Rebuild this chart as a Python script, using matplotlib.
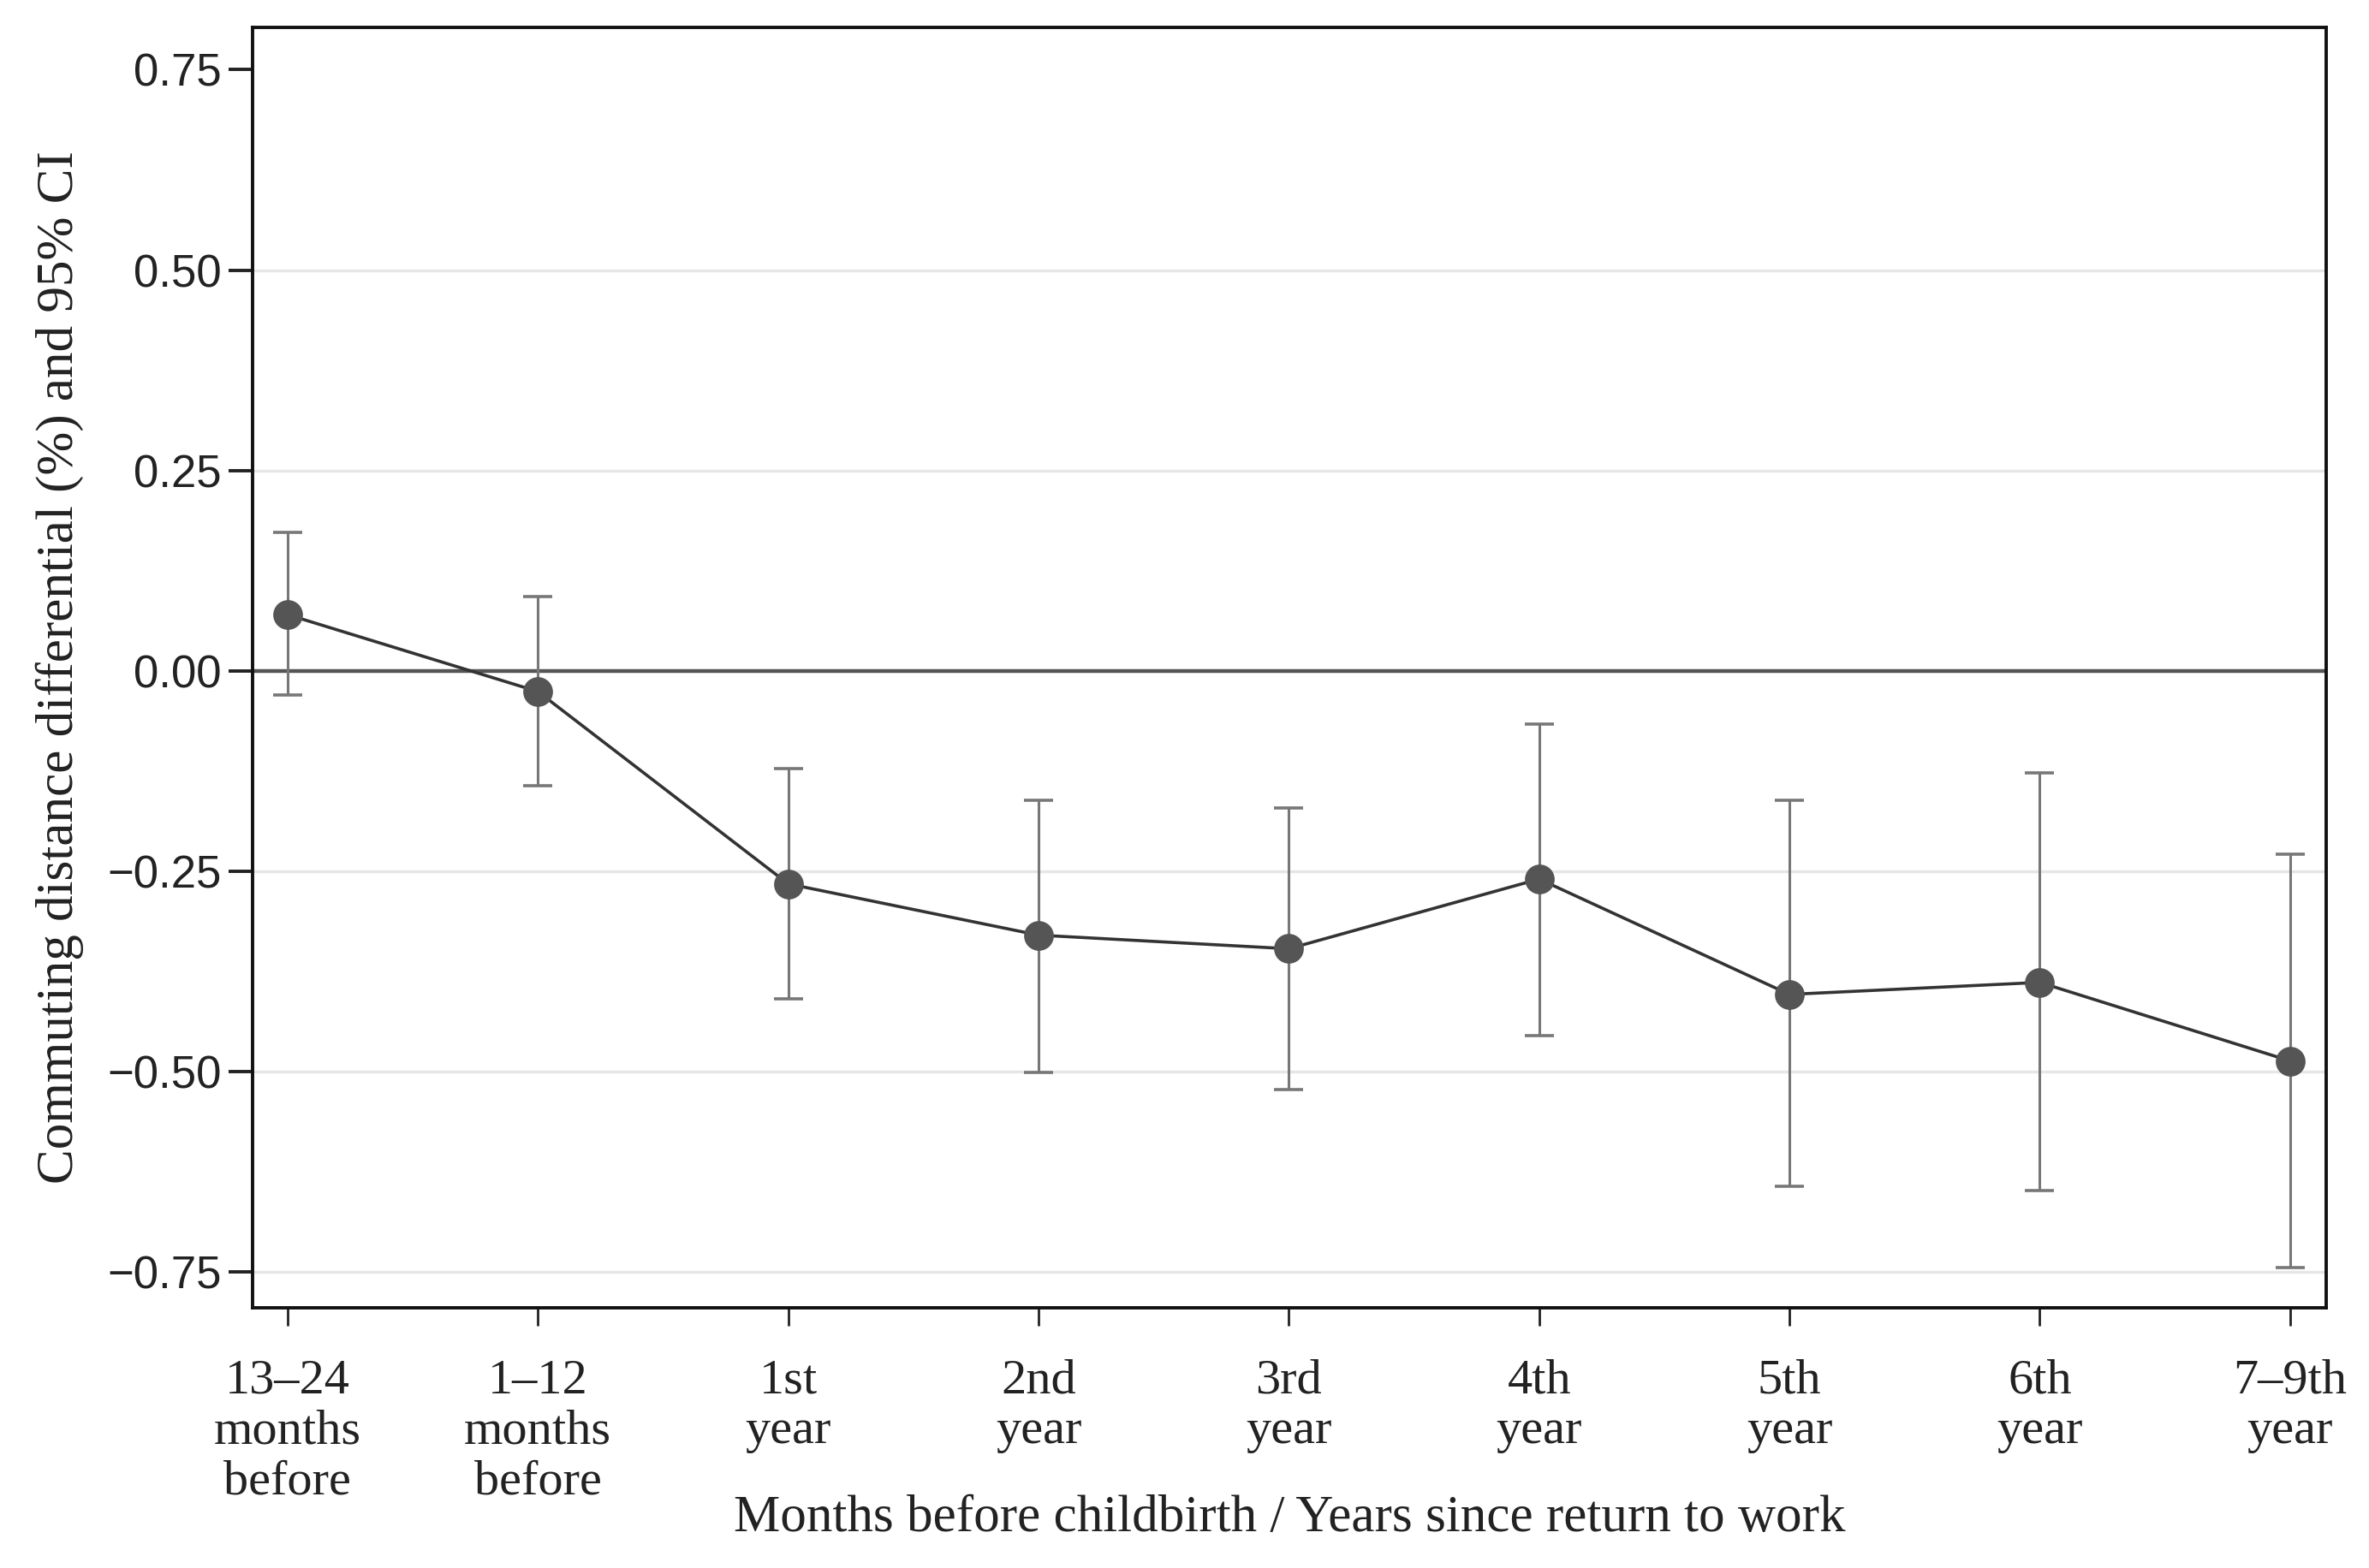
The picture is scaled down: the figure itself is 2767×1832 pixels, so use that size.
import numpy as np
import matplotlib.pyplot as plt

categories = ['13–24\nmonths\nbefore', '1–12\nmonths\nbefore', '1st\nyear', '2nd\nyear',
              '3rd\nyear', '4th\nyear', '5th\nyear', '6th\nyear', '7–9th\nyear']
estimate = [0.070, -0.026, -0.266, -0.330, -0.347, -0.260, -0.404, -0.389, -0.487]
ci_upper = [0.173, 0.092, -0.122, -0.162, -0.171, -0.067, -0.162, -0.127, -0.229]
ci_lower = [-0.030, -0.143, -0.409, -0.501, -0.523, -0.455, -0.643, -0.649, -0.745]
yticks = [0.75, 0.50, 0.25, 0.00, -0.25, -0.50, -0.75]
ytick_labels = ['0.75', '0.50', '0.25', '0.00', '−0.25', '−0.50', '−0.75']

x = np.arange(len(categories))
est = np.array(estimate)
lo = np.array(ci_lower)
hi = np.array(ci_upper)

fig = plt.figure(figsize=(13.835, 9.16), dpi=200)
ax = fig.add_axes([0.1066, 0.166, 0.8754, 0.8166])

# light grid, dark zero line
for t in yticks:
    if t == 0:
        ax.axhline(t, color='#555555', lw=1.6, zorder=1)
    elif t != 0.75:
        ax.axhline(t, color='#e6e6e6', lw=1.2, zorder=0)

ax.errorbar(x, est, yerr=[est - lo, hi - est], fmt='none', ecolor='#777777',
            elinewidth=1.1, capsize=6, capthick=1.3, zorder=2)
ax.plot(x, est, color='#333333', lw=1.3, zorder=3)
ax.plot(x, est, 'o', color='#555555', markersize=11.5, zorder=4)

ax.set_xlim(-0.14, 8.145)
ax.set_ylim(-0.795, 0.803)
ax.set_yticks(yticks)
ax.set_yticklabels(ytick_labels, family='Liberation Sans', fontsize=19, color='#222222')
ax.set_xticks(x)
ax.set_xticklabels(categories, family='Liberation Serif', fontsize=21, color='#222222',
                   linespacing=1.17)

for s in ax.spines.values():
    s.set_linewidth(1.4)
    s.set_color('#111111')
ax.tick_params(axis='y', length=10, width=1.4, pad=3, color='#222222')
ax.tick_params(axis='x', length=7.5, width=1.0, pad=14, color='#222222')

ax.set_ylabel('Commuting distance differential (%) and 95% CI', family='Liberation Serif',
              fontsize=22, color='#222222', labelpad=10)
ax.set_xlabel('Months before childbirth / Years since return to work', family='Liberation Serif',
              fontsize=22, color='#222222', labelpad=-4)

fig.savefig('out.png', dpi=200)
